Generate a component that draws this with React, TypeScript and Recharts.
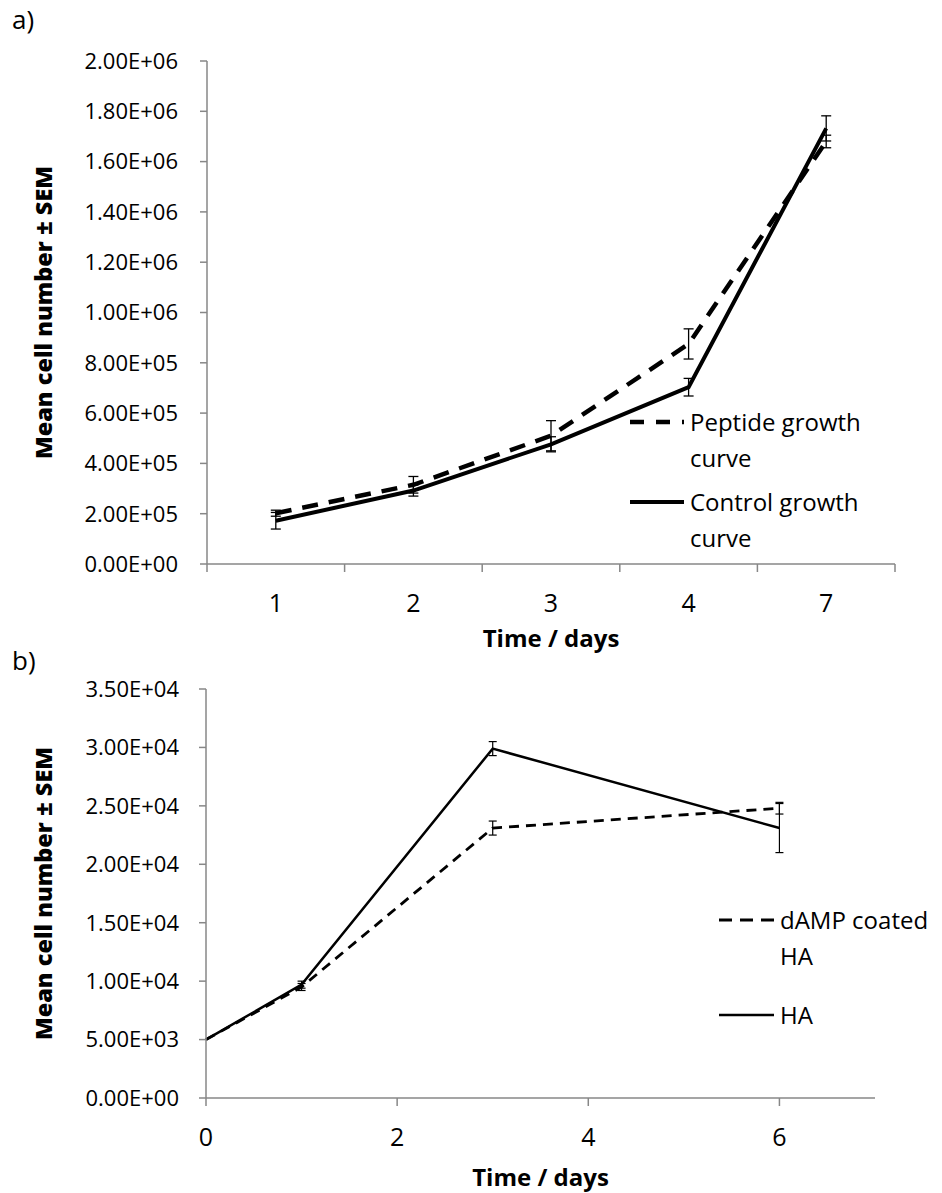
import { LineChart, Line, XAxis, YAxis, ErrorBar } from "recharts";

// panel a) - days are categories (note the 4 -> 7 jump is spaced evenly)
const daysA = ["1", "2", "3", "4", "7"];
const peptideMean = [202000, 315000, 510000, 875000, 1680000];
const peptideSem = [12000, 33000, 60000, 60000, 25000];
const controlMean = [172000, 292000, 476000, 703000, 1732000];
const controlSem = [33000, 22000, 30000, 35000, 50000];
const yTicksA = [0, 200000, 400000, 600000, 800000, 1000000, 1200000, 1400000, 1600000, 1800000, 2000000];

// panel b) - numeric day axis
const daysB = [0, 1, 3, 6];
const coatedMean = [5000, 9500, 23100, 24800];
const coatedSem = [null, 300, 600, 500];
const haMean = [5000, 9700, 29900, 23100];
const haSem = [null, 300, 600, 2100];
const yTicksB = [0, 5000, 10000, 15000, 20000, 25000, 30000, 35000];
const xTicksB = [0, 2, 4, 6];

const FONT = "'Open Sans', 'DejaVu Sans', sans-serif";
const AXIS = "#878787";

// 2000000 -> "2.00E+06"
const sci = (v: number) => {
  const [m, e] = v.toExponential(2).split("e");
  const sign = e[0] === "-" ? "-" : "+";
  return `${m}E${sign}${e.replace(/[+-]/, "").padStart(2, "0")}`;
};

// category tick: label in the middle, tick marks on the band edges (Excel style)
const BetweenTick = (props: any) => {
  const { x, y, payload, index, visibleTicksCount, width } = props;
  const band = (width || 688) / (visibleTicksCount || 5);
  const last = index === visibleTicksCount - 1;
  return (
    <g>
      <line x1={x - band / 2} x2={x - band / 2} y1={y - 8} y2={y} stroke={AXIS} strokeWidth={1.5} />
      {last && <line x1={x + band / 2} x2={x + band / 2} y1={y - 8} y2={y} stroke={AXIS} strokeWidth={1.5} />}
      <text x={x} y={y + 40} textAnchor="middle" fontSize={25} fontFamily={FONT} fill="#000">
        {payload.value}
      </text>
    </g>
  );
};

const yTitle = (cx: number) => (props: any) => {
  const vb = props.viewBox;
  const cy = vb.y + vb.height / 2;
  return (
    <text
      x={cx}
      y={cy}
      transform={`rotate(-90 ${cx} ${cy})`}
      textAnchor="middle"
      dominantBaseline="central"
      fontFamily={FONT}
      fontWeight={800}
      fontSize={23.5}
      fill="#000"
    >
      Mean cell number ± SEM
    </text>
  );
};

const xTitle = (dy: number) => (props: any) => {
  const vb = props.viewBox;
  return (
    <text x={vb.x + vb.width / 2} y={vb.y + dy} textAnchor="middle" fontFamily={FONT} fontWeight={700} fontSize={24} fill="#000">
      Time / days
    </text>
  );
};

type LegendItem = { label: string; dash?: string; width: number };

const LegendBox = ({ items, left, top, gap, textWidth, sample }: { items: LegendItem[]; left: number; top: number; gap: number; textWidth: number; sample: number }) => (
  <div style={{ position: "absolute", left, top, display: "flex", flexDirection: "column", gap }}>
    {items.map((it) => (
      <div key={it.label} style={{ display: "flex", alignItems: "flex-start" }}>
        <svg width={sample + 6} height={36} style={{ flex: "none" }}>
          <line x1={0} x2={sample} y1={18} y2={18} stroke="#000" strokeWidth={it.width} strokeDasharray={it.dash} />
        </svg>
        <div style={{ width: textWidth, fontSize: 24, lineHeight: "36px", fontFamily: FONT, color: "#000" }}>{it.label}</div>
      </div>
    ))}
  </div>
);

export default function App() {
  const dataA = daysA.map((day, i) => ({
    day,
    peptide: peptideMean[i],
    peptideErr: peptideSem[i],
    control: controlMean[i],
    controlErr: controlSem[i],
  }));
  const dataB = daysB.map((day, i) => ({
    day,
    coated: coatedMean[i],
    coatedErr: coatedSem[i],
    ha: haMean[i],
    haErr: haSem[i],
  }));

  return (
    <div style={{ position: "absolute", left: 0, top: 0, width: 942, height: 1193, background: "#fff", fontFamily: FONT, overflow: "hidden" }}>
      <div style={{ position: "absolute", left: 0, top: 0 }}>
        <LineChart width={942} height={660} data={dataA} margin={{ top: 61, right: 47, bottom: 0, left: 0 }}>
          <XAxis
            dataKey="day"
            scale="band"
            height={96}
            tickSize={8}
            tickMargin={0}
            tickLine={false}
            axisLine={{ stroke: AXIS, strokeWidth: 1.5 }}
            tick={<BetweenTick />}
            label={{ content: xTitle(83) }}
          />
          <YAxis
            width={207}
            domain={[0, 2000000]}
            ticks={yTicksA}
            tickFormatter={sci}
            tickSize={7}
            tickMargin={22}
            axisLine={{ stroke: AXIS, strokeWidth: 1.5 }}
            tickLine={{ stroke: AXIS, strokeWidth: 1.5 }}
            tick={{ fill: "#000", fontSize: 22, fontFamily: FONT }}
            label={{ content: yTitle(43) }}
          />
          <Line dataKey="control" type="linear" stroke="#000" strokeWidth={4} dot={false} activeDot={false} isAnimationActive={false}>
            <ErrorBar dataKey="controlErr" direction="y" width={5} stroke="#000" strokeWidth={1.3} />
          </Line>
          <Line dataKey="peptide" type="linear" stroke="#000" strokeWidth={4.5} strokeDasharray="16 11" dot={false} activeDot={false} isAnimationActive={false}>
            <ErrorBar dataKey="peptideErr" direction="y" width={5} stroke="#000" strokeWidth={1.3} />
          </Line>
        </LineChart>
      </div>

      <div style={{ position: "absolute", left: 0, top: 650 }}>
        <LineChart width={942} height={543} data={dataB} margin={{ top: 39, right: 67, bottom: 0, left: 0 }}>
          <XAxis
            dataKey="day"
            type="number"
            domain={[0, 7]}
            ticks={xTicksB}
            height={95}
            tickSize={8}
            tickMargin={22}
            axisLine={{ stroke: AXIS, strokeWidth: 1.5 }}
            tickLine={{ stroke: AXIS, strokeWidth: 1.5 }}
            tick={{ fill: "#000", fontSize: 25, fontFamily: FONT }}
            label={{ content: xTitle(88) }}
          />
          <YAxis
            width={206}
            domain={[0, 35000]}
            ticks={yTicksB}
            tickFormatter={sci}
            tickSize={7}
            tickMargin={20}
            axisLine={{ stroke: AXIS, strokeWidth: 1.5 }}
            tickLine={{ stroke: AXIS, strokeWidth: 1.5 }}
            tick={{ fill: "#000", fontSize: 22, fontFamily: FONT }}
            label={{ content: yTitle(43) }}
          />
          <Line dataKey="ha" type="linear" stroke="#000" strokeWidth={2.5} dot={false} activeDot={false} isAnimationActive={false}>
            <ErrorBar dataKey="haErr" direction="y" width={4} stroke="#000" strokeWidth={1.2} />
          </Line>
          <Line dataKey="coated" type="linear" stroke="#000" strokeWidth={2.8} strokeDasharray="10 7" dot={false} activeDot={false} isAnimationActive={false}>
            <ErrorBar dataKey="coatedErr" direction="y" width={4} stroke="#000" strokeWidth={1.2} />
          </Line>
        </LineChart>
      </div>

      <div style={{ position: "absolute", left: 12, top: 0, fontSize: 26, lineHeight: "38px" }}>a)</div>
      <div style={{ position: "absolute", left: 12, top: 641, fontSize: 26, lineHeight: "38px" }}>b)</div>

      <LegendBox
        left={630}
        top={404}
        gap={8}
        textWidth={205}
        sample={54}
        items={[
          { label: "Peptide growth curve", dash: "14 12", width: 4.5 },
          { label: "Control growth curve", width: 4 },
        ]}
      />
      <LegendBox
        left={719}
        top={902}
        gap={23}
        textWidth={180}
        sample={55}
        items={[
          { label: "dAMP coated HA", dash: "13 8", width: 2.8 },
          { label: "HA", width: 2.5 },
        ]}
      />
    </div>
  );
}
